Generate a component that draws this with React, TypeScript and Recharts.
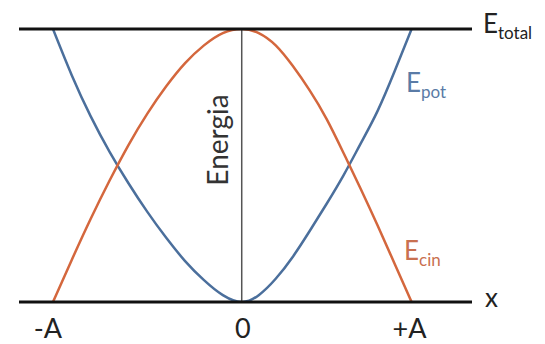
import React from 'react';
import { LineChart, Line, XAxis, YAxis, ReferenceLine, ReferenceDot } from 'recharts';

const xValues = [-100, -90, -80, -70, -60, -50, -40, -30, -20, -10, 0, 9, 18, 27, 36, 45, 54, 63, 72, 81, 90];
const ePot = [1, 0.83, 0.68, 0.55, 0.435, 0.33, 0.235, 0.15, 0.08, 0.025, 0, 0.025, 0.085, 0.165, 0.26, 0.36, 0.465, 0.58, 0.7, 0.845, 1];
const eCin = [0, 0.155, 0.305, 0.445, 0.575, 0.69, 0.79, 0.875, 0.94, 0.985, 1, 0.985, 0.94, 0.865, 0.775, 0.67, 0.545, 0.415, 0.28, 0.14, 0];
const tickValues = [-100, 0, 90];
const tickLabels = ['-A', '0', '+A'];

const data = xValues.map((x, i) => ({ x, pot: ePot[i], cin: eCin[i] }));

const FONT = 'Lato, "Open Sans", sans-serif';
const BLUE = '#4b6f9c';
const ORANGE = '#d4673d';

const SubText = (props: any) => {
  const { viewBox, main, sub, color, dx = 0, dy = 0, size = 26, subSize = 17 } = props;
  if (!viewBox) return null;
  const x = viewBox.x + dx;
  const y = viewBox.y + dy;
  return (
    <text x={x} y={y} fill={color} fontFamily={FONT} fontSize={size} textAnchor="start">
      {main}
      {sub ? (
        <tspan fontSize={subSize} dy={6}>
          {sub}
        </tspan>
      ) : null}
    </text>
  );
};

const EndLabel = (props: any) => {
  const { viewBox, main, sub, color, dx = 0, dy = 0 } = props;
  if (!viewBox) return null;
  return <SubText viewBox={{ x: viewBox.x + viewBox.width, y: viewBox.y }} main={main} sub={sub} color={color} dx={dx} dy={dy} />;
};

const VertLabel = (props: any) => {
  const { viewBox } = props;
  if (!viewBox) return null;
  const x = viewBox.x - 14;
  const y = viewBox.y + 111;
  return (
    <text
      x={x}
      y={y}
      transform={`rotate(-90 ${x} ${y})`}
      textAnchor="middle"
      fill="#333"
      fontFamily={FONT}
      fontSize={28}
    >
      Energia
    </text>
  );
};

const Tick = (props: any) => {
  const { x, y, payload } = props;
  const idx = tickValues.indexOf(payload.value);
  const label = idx >= 0 ? tickLabels[idx] : '';
  const shift = label === '-A' ? -5 : label === '+A' ? -2 : 1;
  return (
    <text x={x + shift} y={y + 36} textAnchor="middle" fill="#222" fontFamily={FONT} fontSize={27}>
      {label}
    </text>
  );
};

export default function App() {
  return (
    <div style={{ position: 'absolute', left: 0, top: 0 }}>
      <LineChart
        width={545}
        height={344}
        data={data}
        margin={{ top: 29, right: 73, bottom: 12, left: 19 }}
      >
        <XAxis
          type="number"
          dataKey="x"
          domain={[-118, 122]}
          allowDataOverflow
          ticks={tickValues}
          tickLine={false}
          axisLine={false}
          tickSize={0}
          tickMargin={0}
          height={30}
          tick={<Tick />}
          interval={0}
        />
        <YAxis hide domain={[0, 1]} type="number" allowDataOverflow />
        <Line type="natural" dataKey="pot" stroke={BLUE} strokeWidth={2.5} dot={false} isAnimationActive={false} />
        <Line type="natural" dataKey="cin" stroke={ORANGE} strokeWidth={2.5} dot={false} isAnimationActive={false} />
        <ReferenceLine x={0} stroke="#555" strokeWidth={1.5} label={<VertLabel />} />
        <ReferenceLine
          y={1}
          stroke="#111"
          strokeWidth={3}
          label={<EndLabel main="E" sub="total" color="#222" dx={11} dy={4} />}
        />
        <ReferenceLine
          y={0}
          stroke="#111"
          strokeWidth={3}
          label={<EndLabel main="x" color="#222" dx={13} dy={5} />}
        />
        <ReferenceDot
          x={87}
          y={0.77}
          r={0}
          fill="none"
          stroke="none"
          ifOverflow="visible"
          label={<SubText main="E" sub="pot" color="#5a7ba6" />}
        />
        <ReferenceDot
          x={86}
          y={0.154}
          r={0}
          fill="none"
          stroke="none"
          ifOverflow="visible"
          label={<SubText main="E" sub="cin" color="#c97050" />}
        />
      </LineChart>
    </div>
  );
}
